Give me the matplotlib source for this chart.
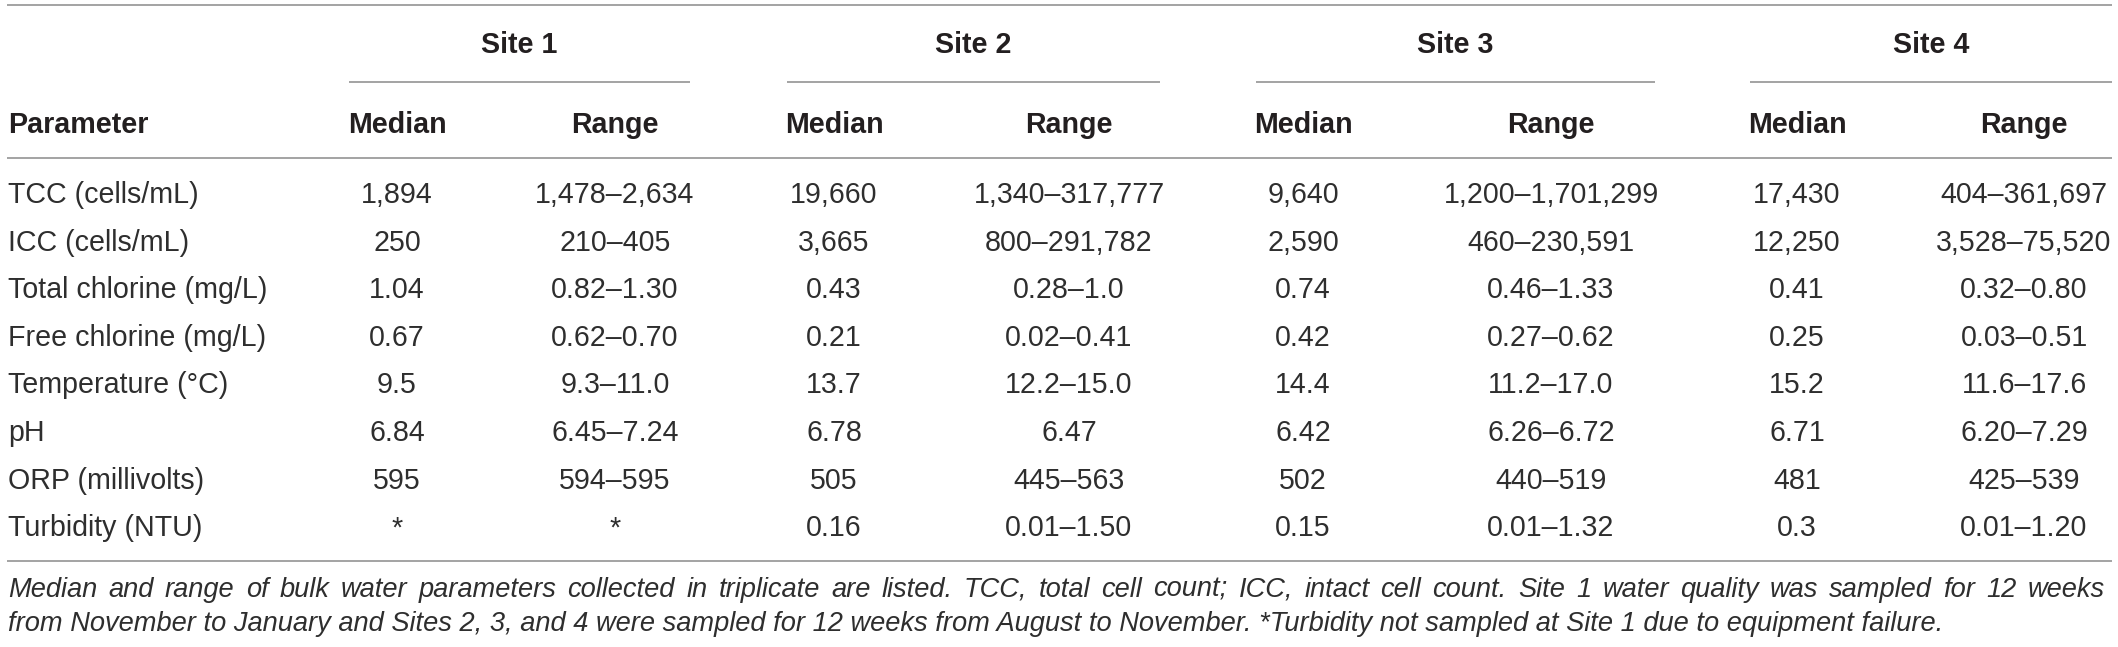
import numpy as np
import matplotlib
matplotlib.use("Agg")
import matplotlib.pyplot as plt

plt.rcParams['font.family'] = ['Liberation Sans', 'DejaVu Sans']

# table contents
sites = ["Site 1", "Site 2", "Site 3", "Site 4"]
sub_headers = ["Median", "Range"]
parameters = ["TCC (cells/mL)", "ICC (cells/mL)", "Total chlorine (mg/L)",
              "Free chlorine (mg/L)", "Temperature (\u00b0C)", "pH",
              "ORP (millivolts)", "Turbidity (NTU)"]

site1_median = ["1,894", "250", "1.04", "0.67", "9.5", "6.84", "595", "*"]
site1_range = ["1,478\u20132,634", "210\u2013405", "0.82\u20131.30", "0.62\u20130.70",
               "9.3\u201311.0", "6.45\u20137.24", "594\u2013595", "*"]
site2_median = ["19,660", "3,665", "0.43", "0.21", "13.7", "6.78", "505", "0.16"]
site2_range = ["1,340\u2013317,777", "800\u2013291,782", "0.28\u20131.0", "0.02\u20130.41",
               "12.2\u201315.0", "6.47", "445\u2013563", "0.01\u20131.50"]
site3_median = ["9,640", "2,590", "0.74", "0.42", "14.4", "6.42", "502", "0.15"]
site3_range = ["1,200\u20131,701,299", "460\u2013230,591", "0.46\u20131.33", "0.27\u20130.62",
               "11.2\u201317.0", "6.26\u20136.72", "440\u2013519", "0.01\u20131.32"]
site4_median = ["17,430", "12,250", "0.41", "0.25", "15.2", "6.71", "481", "0.3"]
site4_range = ["404\u2013361,697", "3,528\u201375,520", "0.32\u20130.80", "0.03\u20130.51",
               "11.6\u201317.6", "6.20\u20137.29", "425\u2013539", "0.01\u20131.20"]

footnote = ["Median and range of bulk water parameters collected in triplicate are listed. "
            "TCC, total cell count; ICC, intact cell count. Site 1 water quality was sampled for 12 weeks",
            "from November to January and Sites 2, 3, and 4 were sampled for 12 weeks from August to "
            "November. *Turbidity not sampled at Site 1 due to equipment failure."]

medians = [site1_median, site2_median, site3_median, site4_median]
ranges = [site1_range, site2_range, site3_range, site4_range]

# layout in pixels
W, H = 2118, 647
median_x = [397, 834, 1303, 1797]
range_x = [615, 1069, 1551, 2024]
site_x = [519, 973, 1455, 1931]
site_span = [(349, 690), (787, 1160), (1256, 1655), (1750, 2112)]
left, right = 7, 2112
row0, row_step = 203, 47.6

txt = '#231f20'
body = '#2e2e2e'
rule = '#8a8a8a'
fs = 20.6

fig = plt.figure(figsize=(W / 100, H / 100), dpi=100)
ax = fig.add_axes([0, 0, 1, 1])
ax.set_xlim(0, W)
ax.set_ylim(H, 0)
ax.axis('off')

# rules
for y in [5, 158, 561]:
    ax.plot([left, right], [y, y], color=rule, lw=1.1, solid_capstyle='butt')
for (a, b) in site_span:
    ax.plot([a, b], [82, 82], color=rule, lw=1.1, solid_capstyle='butt')

# headers
for i, s in enumerate(sites):
    ax.text(site_x[i], 53, s, ha='center', va='baseline', fontsize=fs,
            fontweight='bold', color=txt)
    ax.text(median_x[i], 133, sub_headers[0], ha='center', va='baseline',
            fontsize=fs, fontweight='bold', color=txt)
    ax.text(range_x[i], 133, sub_headers[1], ha='center', va='baseline',
            fontsize=fs, fontweight='bold', color=txt)
ax.text(left + 1, 133, "Parameter", ha='left', va='baseline', fontsize=fs,
        fontweight='bold', color=txt)

# body
for r, p in enumerate(parameters):
    y = row0 + r * row_step
    ax.text(left + 1, y, p, ha='left', va='baseline', fontsize=fs, color=body)
    for i in range(len(sites)):
        ax.text(median_x[i], y, medians[i][r], ha='center', va='baseline',
                fontsize=fs, color=body)
        ax.text(range_x[i], y, ranges[i][r], ha='center', va='baseline',
                fontsize=fs, color=body)

# footnote: size set by the last (unjustified) line, first line justified
renderer = fig.canvas.get_renderer()


def text_width(s, size):
    t = ax.text(0, 0, s, fontsize=size, style='italic')
    w = t.get_window_extent(renderer).width
    t.remove()
    return w


fn_size = 17 * (1945 - left) / text_width(footnote[1], 17)
fn_y = [597, 631]

words = footnote[0].split(' ')
widths = [text_width(wd, fn_size) for wd in words]
gap = (2105 - left - 1 - sum(widths)) / (len(words) - 1)
x = left + 1
for wd, wdw in zip(words, widths):
    ax.text(x, fn_y[0], wd, ha='left', va='baseline', fontsize=fn_size,
            style='italic', color=body)
    x += wdw + gap
ax.text(left + 1, fn_y[1], footnote[1], ha='left', va='baseline',
        fontsize=fn_size, style='italic', color=body)

plt.savefig("out.png", dpi=100)
